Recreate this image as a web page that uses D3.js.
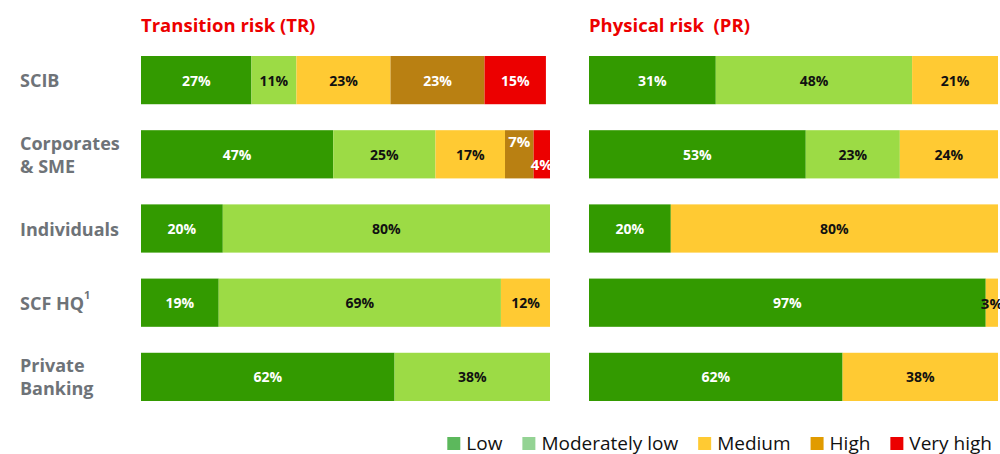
<!DOCTYPE html>
<html>
<head>
<meta charset="utf-8">
<script src="https://cdn.jsdelivr.net/npm/d3@7"></script>
<style>
  body { margin: 0; background: #fff; }
  svg text { font-family: "Open Sans", "Noto Sans", sans-serif; }
</style>
</head>
<body>
<div id="chart"></div>
<script>
// data
var rows = ["SCIB", "Corporates & SME", "Individuals", "SCF HQ", "Private Banking"];
var rowLines = [["SCIB"], ["Corporates", "& SME"], ["Individuals"], ["SCF HQ"], ["Private", "Banking"]];
var levels = ["Low", "Moderately low", "Medium", "High", "Very high"];
var trValues = [
  [27, 11, 23, 23, 15],
  [47, 25, 17, 7, 4],
  [20, 80, 0, 0, 0],
  [19, 69, 12, 0, 0],
  [62, 38, 0, 0, 0]
];
var prValues = [
  [31, 48, 21, 0, 0],
  [53, 23, 24, 0, 0],
  [20, 0, 80, 0, 0],
  [97, 0, 3, 0, 0],
  [62, 0, 38, 0, 0]
];
var barColors = ["#339a00", "#9cdb45", "#ffca33", "#b98012", "#ec0000"];
var legendColors = ["#5cb85c", "#94d394", "#ffca33", "#e19b00", "#ec0000"];
var textColors = ["#fff", "#111", "#111", "#fff", "#fff"];

var W = 1000, H = 454;
var svg = d3.select("#chart").append("svg")
  .attr("width", W).attr("height", H);

var y = d3.scaleBand().domain(rows).range([56, 401]).paddingInner(0.35);

// row labels
rows.forEach(function(r, i){
  var lines = rowLines[i];
  var cy = y(r) + y.bandwidth() / 2;
  var t = svg.append("text")
    .attr("x", 20)
    .attr("y", cy - (lines.length - 1) * 11.5)
    .attr("fill", "#6e7378")
    .attr("font-size", 18)
    .attr("font-weight", "bold")
    .attr("dominant-baseline", "central");
  lines.forEach(function(l, k){
    t.append("tspan").attr("x", 20).attr("dy", k == 0 ? 0 : 23).text(l);
  });
  if(r == "SCF HQ"){
    t.append("tspan").attr("font-size", 11).attr("dy", -9).text("1");
  }
});

function drawPanel(title, values, x0, x1){
  var x = d3.scaleLinear().domain([0, 100]).range([x0, x1]);
  svg.append("text")
    .attr("x", x0).attr("y", 32)
    .attr("fill", "#ec0000")
    .attr("font-size", 18.5)
    .attr("font-weight", "bold")
    .attr("xml:space", "preserve")
    .text(title);
  values.forEach(function(vals, i){
    var g = svg.append("g");
    var acc = 0;
    var small = 0;
    vals.forEach(function(v, j){
      if(v == 0) return;
      var xs = x(acc), xe = x(acc + v);
      g.append("rect")
        .attr("x", xs).attr("y", y(rows[i]))
        .attr("width", xe - xs).attr("height", y.bandwidth())
        .attr("fill", barColors[j]);
      // narrow segments get staggered labels
      var dy = 0;
      if(v < 8 && vals.filter(function(d){ return d > 0 && d < 8; }).length > 1){
        dy = small % 2 == 0 ? -13 : 10;
        small++;
      }
      g.append("text")
        .attr("x", (xs + xe) / 2)
        .attr("y", y(rows[i]) + y.bandwidth() / 2 + dy)
        .attr("text-anchor", "middle")
        .attr("dominant-baseline", "central")
        .attr("font-size", v < 8 ? 15 : 14)
        .attr("font-weight", "bold")
        .attr("fill", textColors[j])
        .text(v + "%");
      acc += v;
    });
  });
}

drawPanel("Transition risk (TR)", trValues, 141, 550);
drawPanel("Physical risk  (PR)", prValues, 589, 998);

// legend, laid out right to left so it ends near the right edge
var leg = svg.append("g");
var legRight = 992, legGap = 20, swatch = 13, swGap = 6;
var cursor = legRight;
for(var i = levels.length - 1; i >= 0; i--){
  var t = leg.append("text")
    .attr("y", 443)
    .attr("dominant-baseline", "central")
    .attr("font-size", 19)
    .attr("fill", "#111")
    .text(levels[i]);
  var w = t.node().getComputedTextLength();
  t.attr("x", cursor - w);
  leg.append("rect")
    .attr("x", cursor - w - swGap - swatch).attr("y", 437)
    .attr("width", swatch).attr("height", swatch)
    .attr("fill", legendColors[i]);
  cursor = cursor - w - swGap - swatch - legGap;
}
</script>
</body>
</html>
